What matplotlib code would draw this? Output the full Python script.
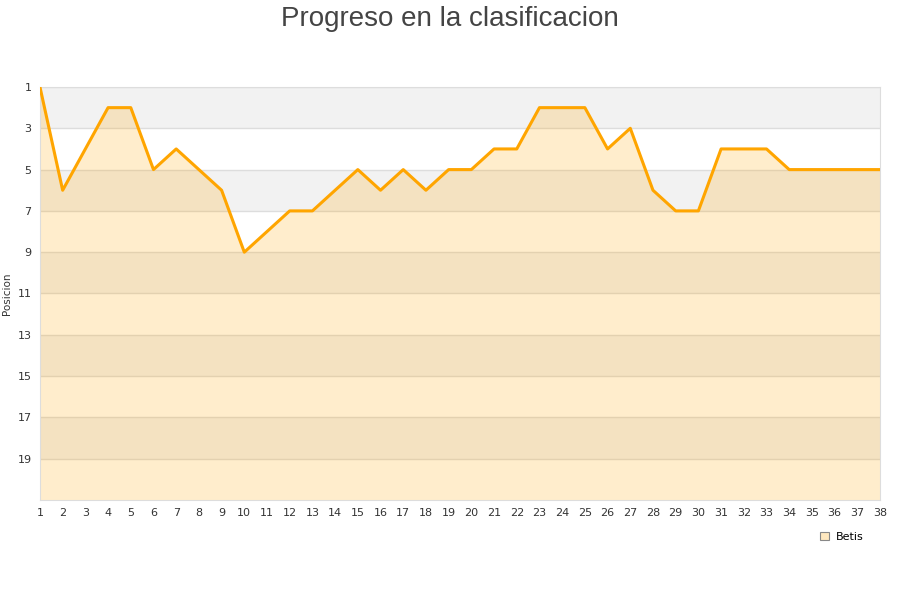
import matplotlib
matplotlib.use("Agg")
import matplotlib.pyplot as plt
from matplotlib.patches import Patch

jornadas = list(range(1, 39))
posicion = [1, 6, 4, 2, 2, 5, 4, 5, 6, 9, 8, 7, 7, 6, 5, 6, 5, 6, 5, 5,
            4, 4, 2, 2, 2, 4, 3, 6, 7, 7, 4, 4, 4, 5, 5, 5, 5, 5]
equipo = "Betis"
yticks = [1, 3, 5, 7, 9, 11, 13, 15, 17, 19]

fig = plt.figure(figsize=(9, 6), dpi=100)
ax = fig.add_axes([0.0444, 0.1667, 0.9334, 0.6883])

# bandas alternas
for y0 in range(1, 21, 4):
    ax.axhspan(y0, y0 + 2, color="#f2f2f2", lw=0, zorder=0)
for y in yticks:
    ax.axhline(y, color="#dddddd", lw=1, zorder=1)

ax.fill_between(jornadas, posicion, 21, color="orange", alpha=0.2, lw=0, zorder=2)
ax.plot(jornadas, posicion, color="#ffa500", lw=2.2, zorder=3)

ax.set_xlim(1, 38)
ax.set_ylim(21, 1)
ax.set_xticks(jornadas)
ax.set_yticks(yticks)
ax.tick_params(length=0, labelsize=8, labelcolor="#333333", pad=6)
for s in ax.spines.values():
    s.set_color("#dddddd")
ax.set_ylabel("Posicion", fontsize=7.5, color="#333333", labelpad=4)

fig.suptitle("Progreso en la clasificacion", fontsize=20, color="#444444",
             family="Liberation Sans", y=0.99)

fig.legend(handles=[Patch(facecolor=(1, 0.647, 0, 0.25), edgecolor="#888888", lw=0.8, label=equipo)],
           loc="center", bbox_to_anchor=(0.935, 0.105), frameon=False, fontsize=8,
           handlelength=0.8, handleheight=0.8, handletextpad=0.6)

fig.savefig("out.png", dpi=100)
